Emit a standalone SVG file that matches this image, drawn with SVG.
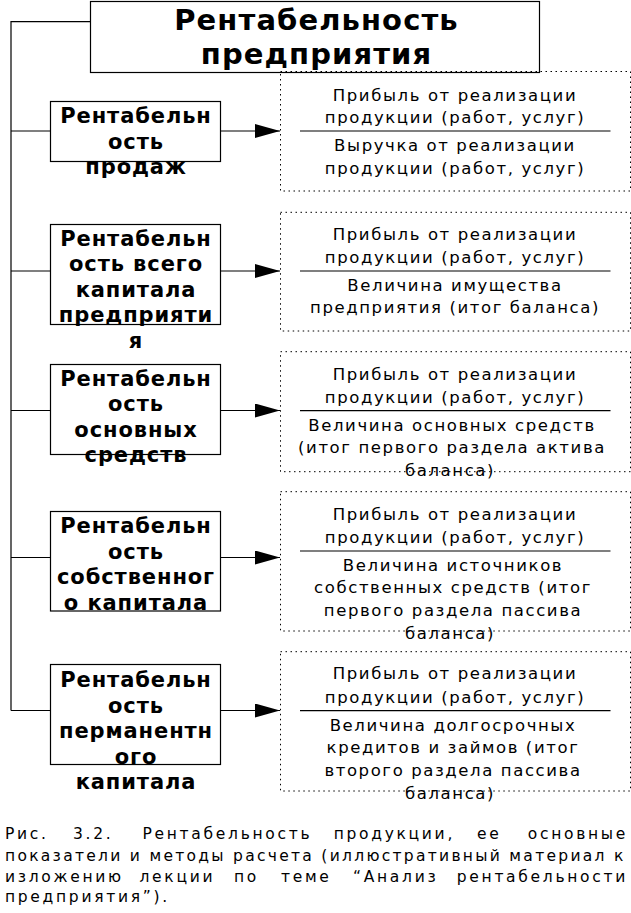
<svg xmlns="http://www.w3.org/2000/svg" width="631" height="913" viewBox="0 0 631 913">
<defs>
<marker id="ah" viewBox="0 0 25 14" refX="25" refY="7" markerWidth="25" markerHeight="14" markerUnits="userSpaceOnUse" orient="auto">
<path d="M0,0 L25,7 L0,14 z" fill="#000"/>
</marker>
<style>
.box{fill:#fff;stroke:#000;stroke-width:1.2}
.dot{fill:none;stroke:#000;stroke-width:1;stroke-dasharray:1.5 3.5}
.ln{fill:none;stroke:#000;stroke-width:1.2}
.frac{stroke:#000;stroke-width:1.2}
.t{font-family:"DejaVu Sans",sans-serif;font-size:29px;font-weight:bold;text-anchor:middle;letter-spacing:1.1px}
.b{font-family:"DejaVu Sans",sans-serif;font-size:21px;font-weight:bold;text-anchor:middle;letter-spacing:0.9px}
.r{font-family:"DejaVu Sans",sans-serif;font-size:16.5px;text-anchor:middle;letter-spacing:1.6px}
.c{font-family:"DejaVu Sans",sans-serif;font-size:15.5px;letter-spacing:2.7px}
.e{text-anchor:end}
</style>
</defs>
<rect width="631" height="913" fill="#fff"/>

<g id="connectors">
<polyline class="ln" points="90,21.7 11,21.7 11,710.5"/>
<line class="ln" x1="11" y1="131" x2="50.5" y2="131"/>
<line class="ln" x1="11" y1="271" x2="50.5" y2="271"/>
<line class="ln" x1="11" y1="410.5" x2="50.5" y2="410.5"/>
<line class="ln" x1="11" y1="557.5" x2="50.5" y2="557.5"/>
<line class="ln" x1="11" y1="710.5" x2="50.5" y2="710.5"/>
<line class="ln" x1="220.5" y1="131" x2="280" y2="131" marker-end="url(#ah)"/>
<line class="ln" x1="220.5" y1="271" x2="280" y2="271" marker-end="url(#ah)"/>
<line class="ln" x1="220.5" y1="410.5" x2="280" y2="410.5" marker-end="url(#ah)"/>
<line class="ln" x1="220.5" y1="557.5" x2="280" y2="557.5" marker-end="url(#ah)"/>
<line class="ln" x1="220.5" y1="710.5" x2="280" y2="710.5" marker-end="url(#ah)"/>
</g>

<g id="title">
<rect class="box" x="90.5" y="1.5" width="449" height="71"/>
<text class="t" x="316.5" y="29.5">Рентабельность</text>
<text class="t" x="316.5" y="63.5">предприятия</text>
</g>

<g id="n1">
<rect class="box" x="50.5" y="101.5" width="170" height="60"/>
<text class="b" x="136" y="123">Рентабельн</text>
<text class="b" x="136" y="148.5">ость</text>
<text class="b" x="136" y="174">продаж</text>
</g>
<g id="f1">
<rect class="dot" x="280.5" y="71.5" width="350" height="119.5"/>
<line class="frac" x1="300" y1="131" x2="610.5" y2="131"/>
<text class="r" x="455" y="100.7">Прибыль от реализации</text>
<text class="r" x="455" y="123.3">продукции (работ, услуг)</text>
<text class="r" x="455" y="151">Выручка от реализации</text>
<text class="r" x="455" y="173.5">продукции (работ, услуг)</text>
</g>

<g id="n2">
<rect class="box" x="50.5" y="224.5" width="170" height="100"/>
<text class="b" x="136" y="245.5">Рентабельн</text>
<text class="b" x="136" y="271">ость всего</text>
<text class="b" x="136" y="296.5">капитала</text>
<text class="b" x="136" y="322">предприяти</text>
<text class="b" x="136" y="347.5">я</text>
</g>
<g id="f2">
<rect class="dot" x="280.5" y="212.3" width="350" height="118.7"/>
<line class="frac" x1="300" y1="271" x2="610.5" y2="271"/>
<text class="r" x="455" y="240">Прибыль от реализации</text>
<text class="r" x="455" y="263.3">продукции (работ, услуг)</text>
<text class="r" x="455" y="291">Величина имущества</text>
<text class="r" x="455" y="313.3">предприятия (итог баланса)</text>
</g>

<g id="n3">
<rect class="box" x="50.5" y="364.5" width="170" height="90"/>
<text class="b" x="136" y="385.5">Рентабельн</text>
<text class="b" x="136" y="411">ость</text>
<text class="b" x="136" y="436.5">основных</text>
<text class="b" x="136" y="462">средств</text>
</g>
<g id="f3">
<rect class="dot" x="280.5" y="351.7" width="350" height="120"/>
<line class="frac" x1="300" y1="410.7" x2="610.5" y2="410.7"/>
<text class="r" x="455" y="380">Прибыль от реализации</text>
<text class="r" x="455" y="403.3">продукции (работ, услуг)</text>
<text class="r" x="452" y="430.7">Величина основных средств</text>
<text class="r" x="452" y="453.3">(итог первого раздела актива</text>
<text class="r" x="450" y="476">баланса)</text>
</g>

<g id="n4">
<rect class="box" x="50.5" y="511.5" width="170" height="99.5"/>
<text class="b" x="136" y="533">Рентабельн</text>
<text class="b" x="136" y="558.5">ость</text>
<text class="b" x="136" y="584">собственног</text>
<text class="b" x="136" y="609.5">о капитала</text>
</g>
<g id="f4">
<rect class="dot" x="280.5" y="491.7" width="350" height="139.3"/>
<line class="frac" x1="300" y1="551" x2="610.5" y2="551"/>
<text class="r" x="455" y="520">Прибыль от реализации</text>
<text class="r" x="455" y="543.3">продукции (работ, услуг)</text>
<text class="r" x="453" y="570.7">Величина источников</text>
<text class="r" x="453" y="593.3">собственных средств (итог</text>
<text class="r" x="453" y="616">первого раздела пассива</text>
<text class="r" x="450" y="638.7">баланса)</text>
</g>

<g id="n5">
<rect class="box" x="50.5" y="664.5" width="170" height="100"/>
<text class="b" x="136" y="687">Рентабельн</text>
<text class="b" x="136" y="712.5">ость</text>
<text class="b" x="136" y="738">перманентн</text>
<text class="b" x="136" y="763.5">ого</text>
<text class="b" x="136" y="789">капитала</text>
</g>
<g id="f5">
<rect class="dot" x="280.5" y="651.7" width="350" height="139.3"/>
<line class="frac" x1="300" y1="710.7" x2="610.5" y2="710.7"/>
<text class="r" x="455" y="679.3">Прибыль от реализации</text>
<text class="r" x="455" y="702.7">продукции (работ, услуг)</text>
<text class="r" x="453" y="730.7">Величина долгосрочных</text>
<text class="r" x="453" y="753.3">кредитов и займов (итог</text>
<text class="r" x="453" y="776">второго раздела пассива</text>
<text class="r" x="450" y="798.7">баланса)</text>
</g>

<g id="caption">
<text class="c" y="839"><tspan x="5">Рис.</tspan><tspan x="73">3.2.</tspan><tspan x="142.5">Рентабельность</tspan><tspan x="333.7">продукции,</tspan><tspan x="477">ее</tspan><tspan x="628" class="e">основные</tspan></text>
<text class="c" x="5" y="860.5" textLength="621" lengthAdjust="spacing">показатели и методы расчета (иллюстративный материал к</text>
<text class="c" y="881.5"><tspan x="5">изложению</tspan><tspan x="139.5">лекции</tspan><tspan x="234">по</tspan><tspan x="281">теме</tspan><tspan x="353">“Анализ</tspan><tspan x="628" class="e">рентабельности</tspan></text>
<text class="c" x="5" y="902">предприятия”).</text>
</g>
</svg>
